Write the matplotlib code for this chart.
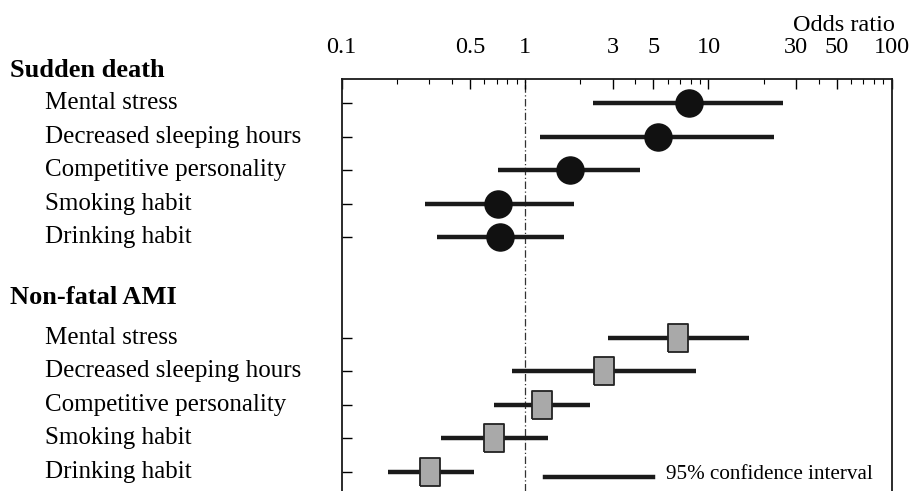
import matplotlib.pyplot as plt
import matplotlib.transforms as mtransforms
import numpy as np

# odds ratios with 95% CI
factors = ['Mental stress', 'Decreased sleeping hours', 'Competitive personality',
           'Smoking habit', 'Drinking habit']

sd_or = [7.8, 5.33, 1.75, 0.71, 0.73]
sd_lo = [2.35, 1.20, 0.71, 0.285, 0.33]
sd_hi = [25.5, 22.7, 4.24, 1.84, 1.64]

ami_or = [6.81, 2.70, 1.24, 0.68, 0.305]
ami_lo = [2.83, 0.85, 0.68, 0.35, 0.18]
ami_hi = [16.6, 8.52, 2.25, 1.33, 0.53]

major_ticks = [0.1, 0.5, 1, 3, 5, 10, 30, 50, 100]
major_labels = ['0.1', '0.5', '1', '3', '5', '10', '30', '50', '100']

plt.rcParams['font.family'] = ['Liberation Serif', 'DejaVu Serif']

fig = plt.figure(figsize=(9.11, 4.91), dpi=100)
ax = fig.add_axes([0.375, 0.0, 0.604, 0.839])

sd_y = np.arange(5)
ami_y = np.arange(5) + 7

# confidence intervals
ax.hlines(sd_y, sd_lo, sd_hi, color='#1a1a1a', lw=3.2, zorder=2)
ax.hlines(ami_y, ami_lo, ami_hi, color='#1a1a1a', lw=3.2, zorder=2)

# point estimates
ax.plot(sd_or, sd_y, 'o', ms=19.5, color='#111111', mec='#111111', zorder=3)
rect = [(-0.36, -0.5), (0.36, -0.5), (0.36, 0.5), (-0.36, 0.5), (-0.36, -0.5)]
ax.plot(ami_or, ami_y, marker=rect, ls='none', ms=20.5, mfc='#a9a9a9',
        mec='#222222', mew=1.3, zorder=3)

ax.axvline(1, color='#333333', lw=0.9, ls=(0, (6, 2, 1, 2)), zorder=1)

ax.set_xscale('log')
ax.set_xlim(0.1, 100)
ax.set_ylim(11.58, -0.72)

ax.xaxis.tick_top()
ax.set_xticks(major_ticks)
ax.set_xticklabels(major_labels, fontsize=17.5)
ax.xaxis.set_minor_locator(plt.LogLocator(base=10, subs=np.arange(2, 10)))
ax.xaxis.set_minor_formatter(plt.NullFormatter())
ax.tick_params(axis='x', which='major', direction='in', length=7, width=1, pad=15)
ax.tick_params(axis='x', which='minor', direction='in', length=3.5, width=0.8)

ax.set_yticks(list(sd_y) + list(ami_y))
ax.set_yticklabels([])
ax.tick_params(axis='y', direction='in', length=7.5, width=1, right=False)

ax.spines['bottom'].set_visible(False)
for s in ['top', 'left', 'right']:
    ax.spines[s].set_linewidth(1.3)
    ax.spines[s].set_color('#1a1a1a')

ax.text(1.005, 1.13, 'Odds ratio', transform=ax.transAxes, ha='right', va='center',
        fontsize=17.5)

# row labels on the left
trans = mtransforms.blended_transform_factory(fig.transFigure, ax.transData)
ax.text(0.011, -0.985, 'Sudden death', transform=trans, fontsize=19,
        fontweight='bold', va='center', clip_on=False)
ax.text(0.011, 5.79, 'Non-fatal AMI', transform=trans, fontsize=19,
        fontweight='bold', va='center', clip_on=False)
for i, f in enumerate(factors):
    ax.text(0.049, sd_y[i], f, transform=trans, fontsize=18, va='center', clip_on=False)
    ax.text(0.049, ami_y[i], f, transform=trans, fontsize=18, va='center', clip_on=False)

# legend for the CI bar
ax.plot([0.369, 0.565], [0.034, 0.034], transform=ax.transAxes, color='#1a1a1a', lw=3.2)
ax.text(0.589, 0.04, '95% confidence interval', transform=ax.transAxes,
        fontsize=15.2, va='center')

fig.savefig('out.png', dpi=100)
